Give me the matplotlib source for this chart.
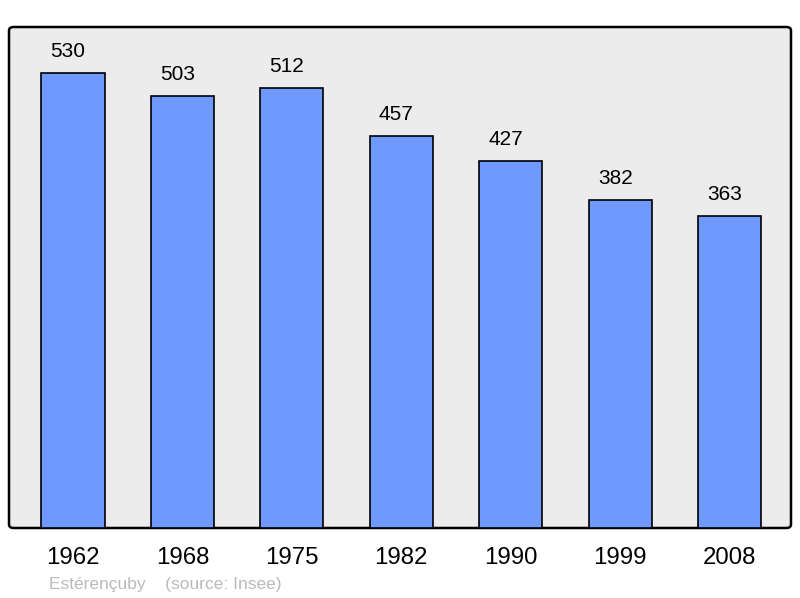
import matplotlib
matplotlib.use("Agg")
import matplotlib.pyplot as plt
from matplotlib.patches import FancyBboxPatch

years = ["1962", "1968", "1975", "1982", "1990", "1999", "2008"]
population = [530, 503, 512, 457, 427, 382, 363]
caption = "Estérençuby    (source: Insee)"

plt.rcParams["font.family"] = ["Liberation Sans", "DejaVu Sans"]

fig = plt.figure(figsize=(8, 5.98), dpi=100)
ax = fig.add_axes([9 / 800, 70 / 598, 782 / 800, 501 / 598])
ax.set_facecolor("none")
for s in ax.spines.values():
    s.set_visible(False)

# rounded frame behind the bars
frame = FancyBboxPatch((9 / 800, 70 / 598), 782 / 800, 501 / 598,
                       boxstyle="round,pad=0,rounding_size=0.006",
                       transform=fig.transFigure, facecolor="#ececec",
                       edgecolor="black", linewidth=1.8, zorder=0,
                       clip_on=False)
ax.add_artist(frame)

x = range(len(years))
ax.bar(x, population, width=0.576, color="#7099ff", edgecolor="black",
       linewidth=1.2, zorder=2)
for i, v in enumerate(population):
    # labels sit a touch left of the bar centre, as in the original
    ax.annotate(str(v), (i, v), xytext=(-3.5, 15.5), textcoords="offset points",
                ha="center", va="center", fontsize=15)

ax.set_xlim(-0.585, 6.562)
ax.set_ylim(0, 583.6)
ax.set_yticks([])
ax.set_xticks(list(x))
ax.set_xticklabels(years, fontsize=17.3)
ax.tick_params(axis="x", length=0, pad=13.5)

fig.text(49 / 800, 1 - 584 / 598, caption, color="#bbbbbb", fontsize=12.5,
         va="center", ha="left")

fig.savefig("out.png", dpi=100)
